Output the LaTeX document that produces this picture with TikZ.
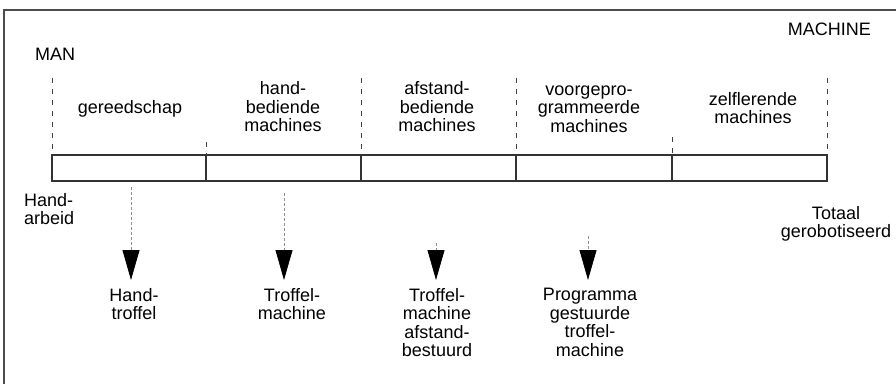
\documentclass[tikz,border=0pt]{standalone}
\usepackage{fontspec}
\setmainfont{Liberation Sans}
\usetikzlibrary{arrows.meta}
\tikzset{
  lbl/.style={font=\fontsize{18}{18.5}\selectfont, align=center, inner sep=0pt, text=black},
  framel/.style={draw=black!70, line width=1.6pt},
  barl/.style={draw=black!80, line width=1.3pt},
  divd/.style={draw=black!75, line width=1pt, dash pattern=on 5pt off 6pt},
  guide/.style={draw=black!45, line width=0.8pt, dash pattern=on 3pt off 2pt,
    -{Triangle[length=30pt,width=17pt,color=black]}},
}
\begin{document}
\begin{tikzpicture}[x=1pt,y=-1pt]
\useasboundingbox (0,0) rectangle (896,384);
% outer frame
\draw[framel] (896,10) -- (4,10) -- (4,384);
% titles
\node[lbl, anchor=west] (man) at (35,54) {MAN};
\node[lbl, anchor=east] (machine) at (871,29) {MACHINE};
% bar
\draw[barl] (52,155) rectangle (827,181);
\foreach \x in {206,361,516,672} \draw[barl] (\x,155) -- (\x,181);
% dashed dividers above bar
\foreach \x in {52,361,516,827} \draw[divd] (\x,78) -- (\x,155);
\draw[divd] (206,142) -- (206,155);
\draw[divd] (672,137) -- (672,155);
% category labels
\node[lbl] (h1) at (130,109) {gereedschap};
\node[lbl] (h2) at (283,107) {hand-\\bediende\\machines};
\node[lbl] (h3) at (437,107) {afstand-\\bediende\\machines};
\node[lbl] (h4) at (589,109) {voorgepro-\\grammeerde\\machines};
\node[lbl] (h5) at (753,108) {zelflerende\\machines};
% end labels
\node[lbl, anchor=north west, align=left] (ha) at (24,193) {Hand-\\arbeid};
\node[lbl] (tg) at (836,224) {Totaal\\gerobotiseerd};
% connectors
\coordinate (s1) at (131,187);
\coordinate (s2) at (284,193);
\coordinate (s3) at (436,243);
\coordinate (s4) at (588,236);
\coordinate (e1) at (131,280);
\coordinate (e2) at (284,280);
\coordinate (e3) at (436,280);
\coordinate (e4) at (588,280);
\draw[guide] (s1) -- (e1);
\draw[guide] (s2) -- (e2);
\draw[guide] (s3) -- (e3);
\draw[guide] (s4) -- (e4);
% result labels
\node[lbl, anchor=north] (r1) at (134,288) {Hand-\\troffel};
\node[lbl, anchor=north] (r2) at (292,288) {Troffel-\\machine};
\node[lbl, anchor=north] (r3) at (437,288) {Troffel-\\machine\\afstand-\\bestuurd};
\node[lbl, anchor=north] (r4) at (590,288) {Programma\\gestuurde\\troffel-\\machine};
\end{tikzpicture}
\end{document}
